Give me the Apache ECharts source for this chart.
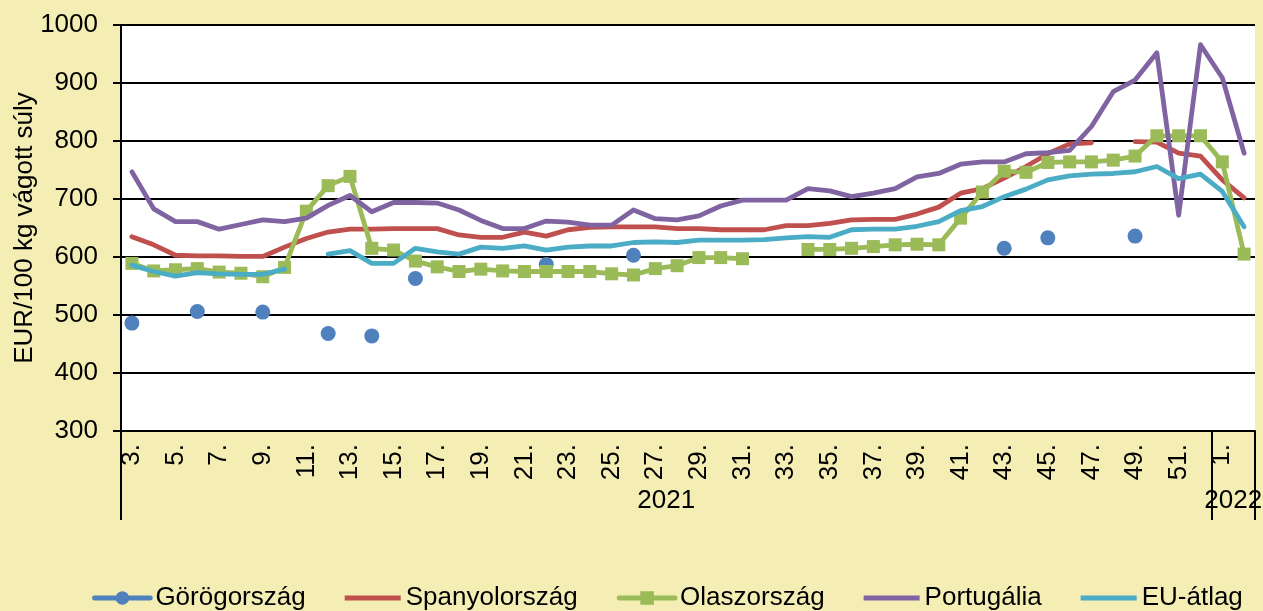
<!DOCTYPE html>
<html>
<head>
<meta charset="utf-8">
<script src="https://cdn.jsdelivr.net/npm/echarts@6/dist/echarts.min.js"></script>
<style>
  html, body { margin: 0; padding: 0; background: #F4EEB4; }
  #chart { width: 1263px; height: 611px; }
</style>
</head>
<body>
<div id="chart"></div>
<script>
// Weekly labels: 2021 weeks 3–52, then 2022 weeks 1–2
const weeks = ['3.', '4.', '5.', '6.', '7.', '8.', '9.', '10.', '11.', '12.',
  '13.', '14.', '15.', '16.', '17.', '18.', '19.', '20.', '21.', '22.',
  '23.', '24.', '25.', '26.', '27.', '28.', '29.', '30.', '31.', '32.',
  '33.', '34.', '35.', '36.', '37.', '38.', '39.', '40.', '41.', '42.',
  '43.', '44.', '45.', '46.', '47.', '48.', '49.', '50.', '51.', '52.',
  '1.', '2.'];
const years = ['2021', '2022'];
const yearFirstIndex = [0, 50];

const seriesNames = ['Görögország', 'Spanyolország', 'Olaszország', 'Portugália', 'EU-átlag'];

// EUR/100 kg carcass weight
const gorog = [486, null, null, 506, null, null, 505, null, null, 468,
  null, 464, null, 563, null, null, null, null, null, 587,
  null, null, null, 603, null, null, null, null, null, null,
  null, null, null, null, null, null, null, null, null, null,
  615, null, 633, null, null, null, 636, null, null, null,
  null, null];
const spanyol = [635, 621, 603, 602, 602, 601, 601, 617, 632, 643,
  648, 648, 649, 649, 649, 638, 634, 634, 643, 636,
  647, 651, 652, 652, 652, 649, 649, 647, 647, 647,
  654, 654, 658, 664, 665, 665, 674, 686, 710, 718,
  736, 756, 778, 795, 797, null, 799, 798, 779, 774,
  733, 702];
const olasz = [589, 576, 578, 580, 574, 572, 566, 582, 679, 723,
  739, 615, 612, 593, 583, 575, 579, 576, 575, 575,
  575, 575, 571, 569, 580, 585, 599, 599, 597, null,
  null, 613, 613, 615, 618, 621, 622, 621, 667, 712,
  748, 746, 763, 764, 764, 767, 774, 809, 809, 809,
  764, 605];
const portugal = [747, 683, 661, 661, 648, 656, 664, 661, 667, 689,
  706, 678, 694, 694, 693, 681, 663, 649, 649, 662,
  660, 655, 655, 681, 666, 664, 671, 688, 698, 698,
  698, 718, 714, 704, 710, 718, 738, 744, 760, 764,
  764, 778, 780, 784, 825, 885, 905, 952, 672, 966,
  909, 779];
const eu = [586, 575, 567, 573, 571, 570, 570, 579, null, 605,
  611, 589, 589, 615, 609, 605, 617, 615, 619, 612,
  617, 619, 619, 625, 626, 625, 629, 629, 629, 630,
  633, 635, 634, 647, 648, 648, 653, 661, 680, 687,
  704, 717, 733, 740, 743, 744, 747, 756, 735, 743,
  713, 652];

const colors = ['#4F81BD', '#C0504D', '#9BBB59', '#8064A2', '#4BACC6'];
const font = "'Liberation Sans', Arial, sans-serif";
const barIcon = 'path://M0,0H56V5H0Z';
const lineW = 4.8;

const chart = echarts.init(document.getElementById('chart'), null, { renderer: 'canvas' });

function lineSeries(name, data, color, extra) {
  return Object.assign({
    name: name,
    type: 'line',
    data: data,
    color: color,
    symbol: 'none',
    connectNulls: false,
    animation: false,
    lineStyle: { color: color, width: lineW, cap: 'round', join: 'round' },
    itemStyle: { color: color }
  }, extra || {});
}

chart.setOption({
  backgroundColor: '#F4EEB4',
  textStyle: { fontFamily: font },
  grid: {
    left: 121, right: 8, top: 25, bottom: 180,
    containLabel: false,
    outerBoundsMode: 'none',
    show: true, backgroundColor: '#FFFFFF', borderWidth: 0
  },
  legend: {
    left: 87, top: 580,
    itemWidth: 56, itemHeight: 17, itemGap: 39,
    textStyle: { fontSize: 26, color: '#000', fontFamily: font },
    itemStyle: { borderWidth: 0 },
    lineStyle: { width: lineW },
    data: [
      { name: seriesNames[0] },
      { name: seriesNames[1], icon: barIcon },
      { name: seriesNames[2] },
      { name: seriesNames[3], icon: barIcon },
      { name: seriesNames[4], icon: barIcon }
    ]
  },
  xAxis: [
    {
      type: 'category',
      data: weeks,
      boundaryGap: true,
      axisLine: { show: true, lineStyle: { color: '#000', width: 2 } },
      axisTick: {
        show: true,
        length: 89,
        interval: function (index) { return yearFirstIndex.indexOf(index) >= 0; },
        lineStyle: { color: '#000', width: 2 }
      },
      axisLabel: {
        interval: 1, rotate: 90, margin: 13,
        fontSize: 26, color: '#000', fontFamily: font
      },
      splitLine: { show: false }
    },
    {
      // year captions centred under each year's span of weeks
      type: 'value',
      min: 0, max: weeks.length, interval: 1,
      position: 'bottom',
      offset: 49,
      axisLine: { show: false },
      axisTick: { show: false },
      splitLine: { show: false },
      axisLabel: {
        margin: 8, fontSize: 26, color: '#000', fontFamily: font,
        showMinLabel: true, showMaxLabel: true,
        formatter: function (v) {
          const mid0 = (yearFirstIndex[0] + yearFirstIndex[1]) / 2;
          const mid1 = (yearFirstIndex[1] + weeks.length) / 2;
          if (v === mid0) return years[0];
          if (v === mid1) return years[1];
          return '';
        }
      }
    }
  ],
  yAxis: {
    type: 'value',
    min: 300, max: 1000, interval: 100,
    name: 'EUR/100 kg vágott súly',
    nameLocation: 'middle',
    nameRotate: 90,
    nameGap: 83,
    nameMoveOverlap: false,
    nameTextStyle: { fontSize: 26, color: '#000', fontFamily: font },
    axisLine: { show: true, lineStyle: { color: '#000', width: 2 } },
    axisTick: { show: true, length: 8, lineStyle: { color: '#000', width: 2 } },
    axisLabel: {
      margin: 23, fontSize: 26, color: '#000', fontFamily: font,
      formatter: function (v) { return String(v); }
    },
    splitLine: { show: true, lineStyle: { color: '#000', width: 2 } }
  },
  series: [
    lineSeries(seriesNames[0], gorog, colors[0], {
      symbol: 'circle', symbolSize: 15, showSymbol: true, showAllSymbol: true, z: 2
    }),
    lineSeries(seriesNames[1], spanyol, colors[1], { z: 2 }),
    lineSeries(seriesNames[2], olasz, colors[2], {
      symbol: 'rect', symbolSize: 13, showSymbol: true, showAllSymbol: true, z: 3
    }),
    lineSeries(seriesNames[3], portugal, colors[3], { z: 4 }),
    lineSeries(seriesNames[4], eu, colors[4], { z: 5 })
  ]
});
</script>
</body>
</html>
